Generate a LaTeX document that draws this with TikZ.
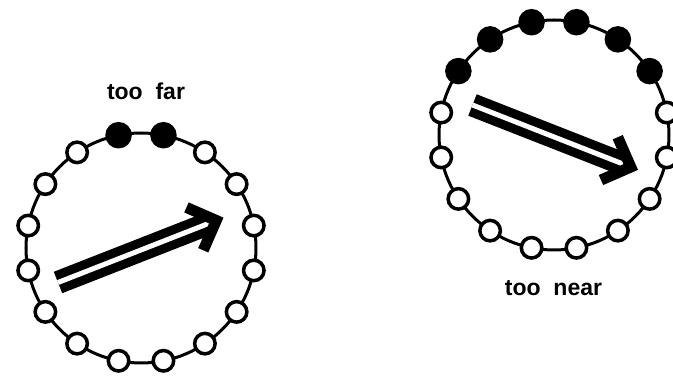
\documentclass[tikz,border=0pt]{standalone}
\usepackage{fontspec}
\newfontfamily\lblfont{Liberation Sans}
\begin{document}
\begin{tikzpicture}[x=1pt, y=1pt]
        \tikzstyle{dot}=[circle, draw, line width=3.5pt, minimum size=20.5pt, inner sep=0pt, fill=white]
        \tikzstyle{full}=[dot, fill=black, minimum size=23pt]
        \tikzstyle{label}=[anchor=base, font=\lblfont\bfseries\fontsize{23}{27}\selectfont]

        \useasboundingbox (0,0) rectangle (673,377);
        \clip (0,0) rectangle (673,377);

        % too far
        \begin{scope}[shift={(141,129)}]
            \draw[line width=3pt] (0,0) circle[radius=115];
            \foreach \k in {0,...,15}{
                \pgfmathsetmacro\ang{11.25+22.5*\k}
                \pgfmathtruncatemacro\f{and(\k>2,\k<5)}
                \ifnum\f=1 \node[full] (far\k) at (\ang:115) {};
                \else \node[dot] (far\k) at (\ang:115) {}; \fi
            }
        \end{scope}
        \node[label] (farlbl) at (146,277) {too\ \ far};

        % too near
        \begin{scope}[shift={(554,242)}]
            \draw[line width=3pt] (0,0) circle[radius=115];
            \foreach \k in {0,...,15}{
                \pgfmathsetmacro\ang{11.25+22.5*\k}
                \pgfmathtruncatemacro\f{and(\k>0,\k<7)}
                \ifnum\f=1 \node[full] (near\k) at (\ang:115) {};
                \else \node[dot] (near\k) at (\ang:115) {}; \fi
            }
        \end{scope}
        \node[label] (nearlbl) at (553.5,81.5) {too\ \ near};

        % arrows
        \begin{scope}[shift={(58,94.5)}, rotate=21.4]
            \draw[line width=9pt, double distance=5pt] (0,0) -- (162,0);
            \draw[line width=11pt, miter limit=10] (147,23) -- (170,0) -- (147,-23);
        \end{scope}
        \begin{scope}[shift={(472.5,272)}, rotate=-21.4]
            \draw[line width=9pt, double distance=5pt] (0,0) -- (162,0);
            \draw[line width=11pt, miter limit=10] (147,23) -- (170,0) -- (147,-23);
        \end{scope}
    \end{tikzpicture}
\end{document}
